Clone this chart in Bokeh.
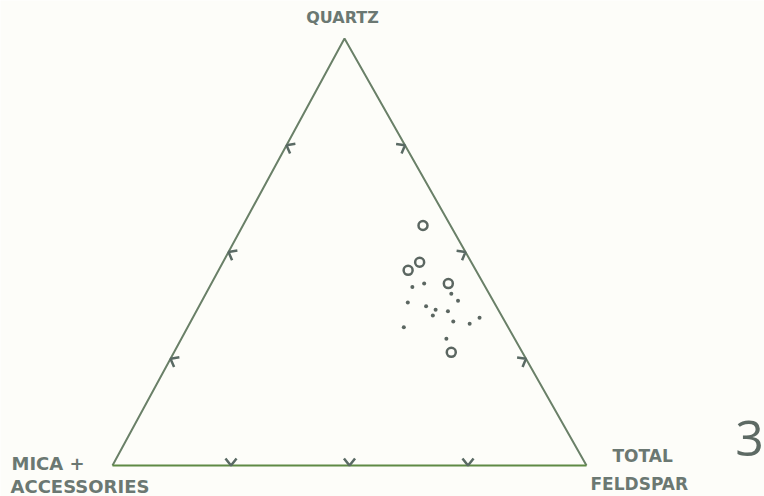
import numpy as np
from bokeh.plotting import figure
from bokeh.models import Range1d
from bokeh.core.properties import value
from bokeh.embed import file_html
from bokeh.resources import INLINE

# ---- data (percent: Quartz, Total Feldspar, Mica + Accessories) ----
circle_q = [56.2, 47.6, 45.7, 42.6, 26.5]
circle_f = [38.0, 41.5, 40.0, 50.0, 58.5]
circle_m = [5.8, 10.9, 14.3, 7.4, 15.0]

dot_q = [41.8, 42.6, 40.2, 38.6, 38.2, 37.3, 36.5, 36.1, 35.1, 33.7, 33.2, 34.6, 32.4, 29.7]
dot_f = [42.8, 44.9, 51.8, 54.0, 43.6, 47.9, 50.3, 53.1, 50.4, 55.4, 59.1, 60.5, 45.6, 55.9]
dot_m = [15.4, 12.5, 8.0, 7.4, 18.2, 14.8, 13.2, 10.8, 14.5, 10.9, 7.7, 4.9, 22.0, 14.4]

tick_fracs = [25, 50, 75]
label_quartz = "QUARTZ"
label_feldspar = ["TOTAL", "FELDSPAR"]
label_mica = ["MICA +", "ACCESSORIES"]
panel_label = "3"

# ---- layout (screen-pixel coordinates) ----
W, H = 764, 496
TOP = (344.0, 38.0)     # Quartz apex
RIGHT = (586.0, 465.0)  # Feldspar apex
LEFT = (112.0, 465.0)   # Mica apex

line_col = "#6a8068"
base_col = "#5f8a45"
text_col = "#6b7872"
pt_col = "#5b6661"


def tern(q, f, m):
    q, f, m = np.asarray(q, float), np.asarray(f, float), np.asarray(m, float)
    s = q + f + m
    q, f, m = q / s, f / s, m / s
    x = q * TOP[0] + f * RIGHT[0] + m * LEFT[0]
    y = q * TOP[1] + f * RIGHT[1] + m * LEFT[1]
    return x, y


p = figure(width=W, height=H, output_backend="svg", toolbar_location=None,
           x_range=Range1d(0, W), y_range=Range1d(H, 0),
           min_border=0, border_fill_color="#fdfdf9", background_fill_color="#fdfdf9")
p.axis.visible = False
p.grid.visible = False
p.outline_line_color = None

# triangle sides
p.line([LEFT[0], TOP[0], RIGHT[0]], [LEFT[1], TOP[1], RIGHT[1]], line_color=line_col, line_width=2)
p.line([LEFT[0], RIGHT[0]], [LEFT[1], RIGHT[1]], line_color=base_col, line_width=2.2)

# tick chevrons on each side (vertex on the side, arms pointing inward)
centroid = ((TOP[0] + RIGHT[0] + LEFT[0]) / 3, (TOP[1] + RIGHT[1] + LEFT[1]) / 3)
xs, ys = [], []
for a, b in [(LEFT, TOP), (TOP, RIGHT), (LEFT, RIGHT)]:
    ax, ay = a
    bx, by = b
    dx, dy = bx - ax, by - ay
    L = np.hypot(dx, dy)
    ux, uy = dx / L, dy / L
    nx, ny = -uy, ux
    mx, my = (ax + bx) / 2, (ay + by) / 2
    if (centroid[0] - mx) * nx + (centroid[1] - my) * ny < 0:
        nx, ny = -nx, -ny
    for t in tick_fracs:
        px, py = ax + dx * t / 100, ay + dy * t / 100
        arm = 9
        ang = np.radians(38)
        c, s = np.cos(ang), np.sin(ang)
        a1 = (nx * c - ny * s, nx * s + ny * c)
        a2 = (nx * c + ny * s, -nx * s + ny * c)
        xs.append([px + a1[0] * arm, px, px + a2[0] * arm])
        ys.append([py + a1[1] * arm, py, py + a2[1] * arm])
p.multi_line(xs, ys, line_color="#5a6a64", line_width=2.5)

# points
cx, cy = tern(circle_q, circle_f, circle_m)
p.scatter(cx, cy, marker="circle", size=9, fill_color=None, line_color=pt_col, line_width=2.5)
dx_, dy_ = tern(dot_q, dot_f, dot_m)
p.scatter(dx_, dy_, marker="circle", size=4, fill_color=pt_col, line_color=None)

# labels
font = value("DejaVu Sans")
common = dict(text_font=font, text_font_style="bold", text_color=text_col, text_baseline="middle")
p.text([342], [17], text=[label_quartz], text_align="center", text_font_size="16px", **common)
p.text([11], [463], text=[label_mica[0]], text_align="left", text_font_size="18px", **common)
p.text([10], [486], text=[label_mica[1]], text_align="left", text_font_size="18px", **common)
p.text([612], [455], text=[label_feldspar[0]], text_align="left", text_font_size="17px", **common)
p.text([590], [483], text=[label_feldspar[1]], text_align="left", text_font_size="17px", **common)
p.text([749], [438], text=[panel_label], text_align="center", text_baseline="middle",
       text_font=value("Open Sans"), text_font_size="50px", text_color="#5d6a64")

open("out.html", "w").write(file_html(p, INLINE))
